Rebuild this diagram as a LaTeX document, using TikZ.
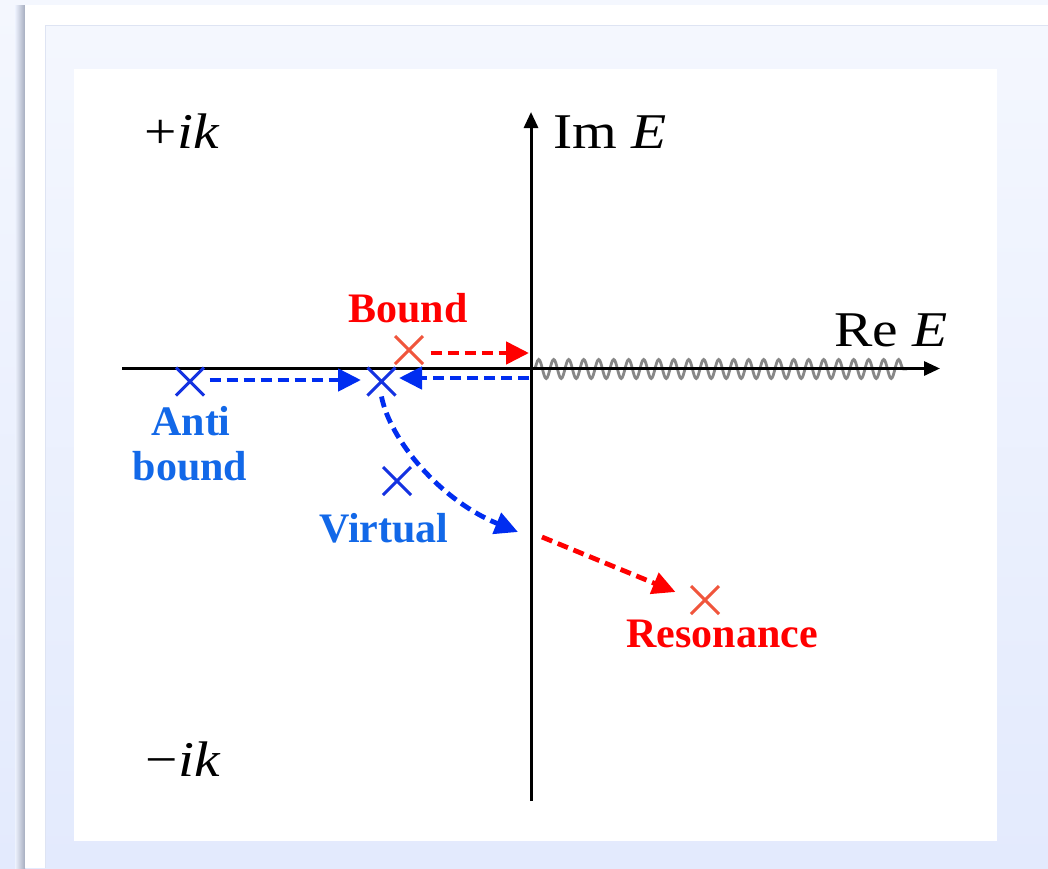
\documentclass[tikz,border=0pt]{standalone}
\usepackage{fontspec}
\setmainfont{Liberation Serif}
\usetikzlibrary{arrows.meta,decorations.pathmorphing,shapes.misc}
\definecolor{bgtop}{RGB}{244,247,254}
\definecolor{bgbot}{RGB}{227,234,253}
\definecolor{shadowgray}{RGB}{165,172,190}
\definecolor{edgecol}{RGB}{222,228,243}
\definecolor{textblue}{RGB}{18,104,232}
\definecolor{arrblue}{RGB}{0,45,240}
\definecolor{crossblue}{RGB}{20,50,225}
\definecolor{crossred}{RGB}{240,85,60}
\definecolor{arrred}{RGB}{255,0,0}
\definecolor{wiggray}{RGB}{135,135,135}
\newcommand{\wideTxt}[1]{\scalebox{1.15}[1]{#1}}
\begin{document}
\begin{tikzpicture}[x=1pt,y=-1pt,
  axis/.style={line width=3pt,black,-{Triangle[length=16pt,width=14pt]}},
  wig/.style={line width=2.8pt,wiggray,decorate,decoration={snake,segment length=15pt,amplitude=9.5pt}},
  mathlab/.style={font=\fontsize{50}{58}\selectfont,inner sep=0pt},
  redlab/.style={font=\fontsize{42}{46}\selectfont\bfseries,text=arrred,inner sep=0pt},
  bluelab/.style={font=\fontsize{42}{46}\selectfont\bfseries,text=textblue,inner sep=0pt},
  crossR/.style={cross out,draw=crossred,line width=3pt,minimum size=25pt,inner sep=0pt},
  crossB/.style={cross out,draw=crossblue,line width=3pt,minimum size=25pt,inner sep=0pt},
  redarr/.style={line width=4.8pt,arrred,dash pattern=on 11pt off 6pt,-{Triangle[length=23pt,width=22pt]}},
  bluearr/.style={line width=4.8pt,arrblue,dash pattern=on 11pt off 6pt,-{Triangle[length=23pt,width=22pt]}}
]
\useasboundingbox (0,0) rectangle (1048,868);
% background and frame
\fill[top color=bgtop,bottom color=bgbot] (0,0) rectangle (1048,868);
\fill[left color=bgtop!60!bgbot,right color=shadowgray] (15,5) rectangle (25,868);
\fill[white] (25,5) rectangle (1048,868);
\fill[top color=bgtop,bottom color=bgbot] (45,25) rectangle (1048,868);
\draw[line width=0.8pt,edgecol] (45,868) -- (45,25) -- (1048,25);
\fill[white] (74,69) rectangle (997,841);
% axes
\coordinate (xl) at (122,368.5);
\coordinate (xr) at (940,368.5);
\coordinate (yb) at (531,801);
\coordinate (yt) at (531,112);
\coordinate (w0) at (534,369);
\coordinate (w1) at (907,369);
\draw[wig] (w0) -- (w1);
\draw[axis] (xl) -- (xr);
\draw[axis] (yb) -- (yt);
% axis labels
\node[mathlab,anchor=base] (pik) at (182,148) {\wideTxt{+\textit{ik}}};
\node[mathlab,anchor=base] (mik) at (183,776) {\wideTxt{−\textit{ik}}};
\node[mathlab,anchor=base] (im) at (610,148) {\wideTxt{Im \textit{E}}};
\node[mathlab,anchor=base] (re) at (891,346) {\wideTxt{Re \textit{E}}};
% state labels
\node[redlab,anchor=base] (lbound) at (408,322) {Bound};
\node[bluelab,anchor=base] (lanti) at (191,435) {Anti};
\node[bluelab,anchor=base] (lanti2) at (190,480) {bound};
\node[bluelab,anchor=base] (lvirt) at (384,542) {Virtual};
\node[redlab,anchor=base] (lres) at (722,647) {Resonance};
% crosses
\node[crossR] (cb) at (409,350) {};
\node[crossB] (ca) at (190,381.5) {};
\node[crossB] (cm) at (381.5,381.5) {};
\node[crossB] (cv) at (397,481) {};
\node[crossR] (cr) at (705,600) {};
% arrow ends on the imaginary axis
\coordinate (ybnd) at (529,353);
\coordinate (ymid) at (529,378);
\coordinate (yv) at (518,532);
\coordinate (yr) at (542,537);
% arrows
\draw[redarr] ([xshift=7.5pt,yshift=-3pt]cb.east) -- (ybnd);
\draw[bluearr] ([xshift=5.5pt,yshift=1.5pt]ca.east) -- ([xshift=-6.5pt,yshift=1.5pt]cm.west);
\draw[bluearr] (ymid) -- ([xshift=3.5pt,yshift=3.5pt]cm.east);
\draw[bluearr] ([yshift=-1pt]cm.south) .. controls (390,440) and (440,500) .. (yv);
\draw[redarr] (yr) -- ([xshift=-15.5pt,yshift=8pt]cr.west);
\end{tikzpicture}
\end{document}
